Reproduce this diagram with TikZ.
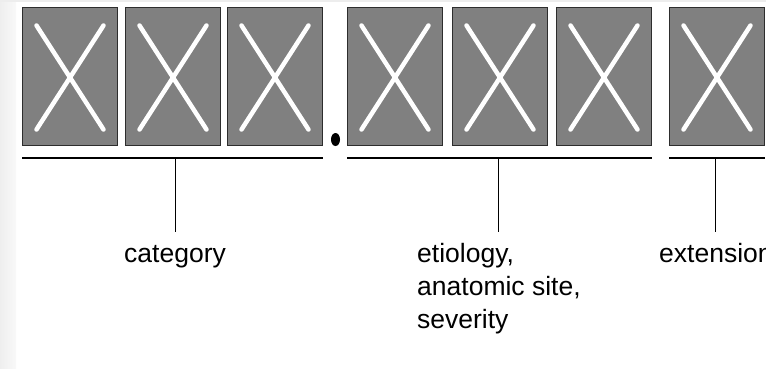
\documentclass[tikz,border=0pt]{standalone}
\usepackage{fontspec}
\setmainfont{Liberation Sans}
\usetikzlibrary{calc}

\begin{document}
\begin{tikzpicture}[x=1pt, y=-1pt,
  slot/.style={rectangle, draw=gray!35!black, line width=1pt, fill=gray,
    minimum width=95pt, minimum height=138pt, inner sep=0pt,
    path picture={
      \draw[white, line width=4.5pt, line cap=round]
        ($(path picture bounding box.north west)+(14pt,-18pt)$) --
        ($(path picture bounding box.south east)+(-14pt,16pt)$)
        ($(path picture bounding box.north east)+(-14pt,-18pt)$) --
        ($(path picture bounding box.south west)+(14pt,16pt)$);
    }},
  groupline/.style={line width=2pt},
  stemline/.style={line width=1pt},
  desc/.style={font=\fontsize{26.5}{33}\selectfont, inner sep=0pt}]

  \useasboundingbox (0,0) rectangle (766,368);
  \clip (0,0) rectangle (766,368);

  % page edge
  \shade[left color=gray!13, right color=gray!5] (0,0) rectangle (16,368);
  \fill[gray!14] (0,0) rectangle (766,2);

  % code positions
  \node[slot] (c1) at (70,76.5) {};
  \node[slot] (c2) at (173,76.5) {};
  \node[slot] (c3) at (275,76.5) {};
  \node[slot] (d1) at (395,76.5) {};
  \node[slot] (d2) at (500,76.5) {};
  \node[slot] (d3) at (604,76.5) {};
  \node[slot] (e1) at (717,76.5) {};

  % decimal point
  \fill (335.5,139.5) ellipse [x radius=4.5pt, y radius=6.5pt];

  \coordinate (barline) at (0,158);
  \coordinate (stemend) at (0,232);

  \node[desc, anchor=base west] (cat) at (124,262) {category};
  % base of a multi-line node sits on its last line
  \node[desc, anchor=base west, align=left] (eti) at (417,328) {etiology,\\anatomic site,\\severity};
  \node[desc, anchor=base west] (ext) at (659,262) {extension};

  \draw[groupline] (c1.west |- barline) -- (c3.east |- barline);
  \draw[groupline] (d1.west |- barline) -- (d3.east |- barline);
  \draw[groupline] (e1.west |- barline) -- (e1.east |- barline);

  \draw[stemline] (cat.north |- barline) -- (cat.north |- stemend);
  \draw[stemline] (eti.north |- barline) -- (eti.north |- stemend);
  \draw[stemline] (ext.north |- barline) -- (ext.north |- stemend);
\end{tikzpicture}
\end{document}
